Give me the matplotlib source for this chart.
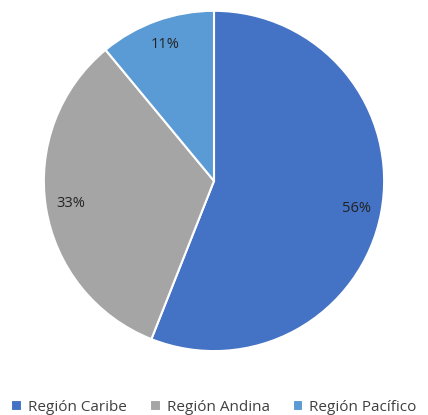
import matplotlib.pyplot as plt

# Data
regions = ["Región Caribe", "Región Andina", "Región Pacífico"]
shares = [56, 33, 11]
colors = ["#4472C4", "#A5A5A5", "#5B9BD5"]

plt.rcParams["font.family"] = ["Open Sans", "DejaVu Sans"]

fig = plt.figure(figsize=(4.28, 4.15), dpi=100)
ax = fig.add_axes([0.1005, 0.152, 0.799, 0.824])

wedges, _, autotexts = ax.pie(
    shares,
    colors=colors,
    startangle=90,
    counterclock=False,
    autopct="%1.0f%%",
    pctdistance=0.85,
    wedgeprops=dict(edgecolor="white", linewidth=1.5),
    textprops=dict(fontsize=10.5, color="#222222"),
)
ax.set_xlim(-1.005, 1.005)
ax.set_ylim(-1.005, 1.005)
ax.set_aspect("equal")

fig.legend(
    wedges, regions,
    loc="center", bbox_to_anchor=(0.5, 0.019),
    ncol=3, frameon=False, fontsize=11,
    handlelength=0.7, handleheight=0.7, handletextpad=0.4,
    columnspacing=1.5, labelcolor="#404040",
)

fig.savefig("out.png", dpi=100)
